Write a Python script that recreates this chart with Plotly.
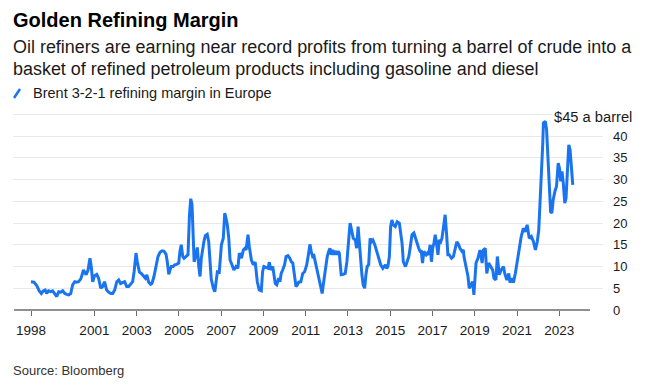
import plotly.graph_objects as go

# ---------------- data ----------------
YEARS = [
    1998.00, 1998.14, 1998.27, 1998.39, 1998.49, 1998.58, 1998.67, 1998.74, 1998.83, 1998.93,
    1999.02, 1999.13, 1999.22, 1999.31, 1999.41, 1999.50, 1999.60, 1999.69, 1999.78, 1999.88,
    1999.97, 2000.07, 2000.16, 2000.25, 2000.35, 2000.42, 2000.48, 2000.61, 2000.70, 2000.79,
    2000.85, 2000.92, 2001.01, 2001.11, 2001.20, 2001.30, 2001.39, 2001.48, 2001.58, 2001.67,
    2001.78, 2001.87, 2001.96, 2002.06, 2002.15, 2002.24, 2002.34, 2002.43, 2002.53, 2002.62,
    2002.71, 2002.81, 2002.88, 2002.97, 2003.03, 2003.13, 2003.22, 2003.32, 2003.41, 2003.48,
    2003.57, 2003.66, 2003.72, 2003.82, 2003.91, 2004.01, 2004.11, 2004.20, 2004.30, 2004.39,
    2004.45, 2004.52, 2004.58, 2004.64, 2004.73, 2004.80, 2004.89, 2004.99, 2005.05, 2005.11,
    2005.18, 2005.24, 2005.33, 2005.43, 2005.50, 2005.56, 2005.62, 2005.72, 2005.81, 2005.87,
    2005.94, 2006.00, 2006.06, 2006.12, 2006.19, 2006.25, 2006.34, 2006.41, 2006.47, 2006.53,
    2006.63, 2006.70, 2006.76, 2006.82, 2006.91, 2007.01, 2007.10, 2007.17, 2007.23, 2007.29,
    2007.36, 2007.42, 2007.51, 2007.60, 2007.70, 2007.79, 2007.86, 2007.96, 2008.05, 2008.13,
    2008.18, 2008.27, 2008.33, 2008.43, 2008.52, 2008.61, 2008.71, 2008.80, 2008.90, 2008.96,
    2009.02, 2009.13, 2009.22, 2009.28, 2009.35, 2009.44, 2009.50, 2009.56, 2009.63, 2009.72,
    2009.78, 2009.84, 2009.91, 2010.00, 2010.07, 2010.16, 2010.25, 2010.32, 2010.39, 2010.48,
    2010.54, 2010.61, 2010.67, 2010.77, 2010.86, 2010.95, 2011.05, 2011.14, 2011.20, 2011.26,
    2011.33, 2011.39, 2011.48, 2011.58, 2011.68, 2011.78, 2011.84, 2011.93, 2012.02, 2012.09,
    2012.15, 2012.21, 2012.28, 2012.34, 2012.40, 2012.47, 2012.53, 2012.59, 2012.68, 2012.78,
    2012.87, 2012.95, 2013.04, 2013.10, 2013.19, 2013.25, 2013.35, 2013.41, 2013.48, 2013.54,
    2013.60, 2013.66, 2013.72, 2013.79, 2013.85, 2013.91, 2013.98, 2014.05, 2014.11, 2014.18,
    2014.27, 2014.36, 2014.46, 2014.55, 2014.65, 2014.71, 2014.77, 2014.83, 2014.89, 2014.96,
    2015.02, 2015.08, 2015.14, 2015.24, 2015.33, 2015.43, 2015.50, 2015.56, 2015.62, 2015.72,
    2015.78, 2015.88, 2015.94, 2016.03, 2016.12, 2016.19, 2016.25, 2016.35, 2016.41, 2016.47,
    2016.53, 2016.59, 2016.70, 2016.76, 2016.82, 2016.89, 2016.95, 2017.01, 2017.07, 2017.13,
    2017.20, 2017.26, 2017.32, 2017.39, 2017.45, 2017.54, 2017.60, 2017.67, 2017.73, 2017.79,
    2017.90, 2017.99, 2018.08, 2018.15, 2018.24, 2018.30, 2018.40, 2018.46, 2018.49, 2018.59,
    2018.68, 2018.74, 2018.83, 2018.90, 2018.96, 2019.02, 2019.06, 2019.15, 2019.25, 2019.35,
    2019.41, 2019.50, 2019.57, 2019.66, 2019.76, 2019.85, 2019.91, 2020.00, 2020.07, 2020.16,
    2020.25, 2020.36, 2020.42, 2020.52, 2020.61, 2020.67, 2020.77, 2020.83, 2020.92, 2021.01,
    2021.11, 2021.20, 2021.30, 2021.39, 2021.48, 2021.58, 2021.68, 2021.78, 2021.87, 2021.96,
    2022.03, 2022.09, 2022.15, 2022.22, 2022.25, 2022.34, 2022.40, 2022.47, 2022.53, 2022.59,
    2022.65, 2022.71, 2022.81, 2022.87, 2022.95, 2023.01, 2023.07, 2023.13, 2023.19, 2023.26,
    2023.32, 2023.38, 2023.45, 2023.51, 2023.57, 2023.64,
]

MARGIN = [
    6.5, 6.4, 5.6, 4.4, 3.8, 4.4, 4.6, 3.8, 4.4, 4.2, 4.4, 3.8, 3.1, 4.2, 4.1, 4.4, 3.8, 3.6, 3.5, 3.8,
    5.8, 6.5, 6.4, 6.5, 7.1, 8.1, 9.2, 8.1, 9.2, 11.9, 10.0, 6.5, 7.9, 8.2, 7.3, 5.0, 5.4, 6.5, 4.6, 4.1,
    3.8, 3.8, 4.6, 6.5, 6.9, 6.1, 6.4, 6.5, 5.4, 5.4, 5.9, 6.5, 8.8, 13.1, 11.1, 8.7, 8.4, 7.9, 7.3, 8.1,
    6.4, 5.9, 6.1, 7.7, 10.0, 12.3, 13.3, 13.6, 13.5, 12.8, 11.1, 8.2, 9.2, 10.0, 10.0, 10.4, 10.5, 10.8, 13.5, 15.0,
    12.3, 11.9, 12.3, 12.7, 21.9, 25.6, 24.2, 11.1, 12.7, 14.4, 10.0, 7.7, 11.9, 14.2, 15.9, 17.1, 17.4, 15.7, 10.8, 7.1,
    5.0, 4.2, 6.5, 8.8, 8.7, 15.0, 16.5, 22.3, 21.1, 19.6, 16.5, 11.5, 10.4, 9.2, 10.0, 9.6, 13.1, 11.9, 13.8, 14.2,
    13.8, 17.3, 14.6, 11.5, 10.4, 11.0, 6.5, 4.6, 4.4, 8.8, 10.0, 9.8, 9.6, 11.0, 9.2, 10.0, 8.1, 6.1, 5.8, 7.3,
    6.5, 8.4, 9.2, 10.4, 12.3, 12.5, 11.9, 11.1, 10.8, 8.1, 5.4, 5.8, 6.4, 6.5, 8.4, 8.8, 10.4, 13.1, 15.1, 13.5,
    12.3, 12.5, 10.4, 8.8, 6.5, 3.8, 6.1, 9.6, 12.3, 13.5, 14.2, 12.7, 13.8, 12.7, 13.6, 12.7, 13.5, 13.1, 8.1, 8.2,
    8.4, 11.1, 16.5, 20.0, 18.0, 16.5, 16.1, 14.2, 19.2, 15.0, 12.3, 8.1, 5.8, 5.0, 8.1, 10.0, 10.4, 16.5, 15.7, 16.1,
    15.0, 13.5, 11.5, 10.4, 9.6, 10.0, 10.4, 9.6, 10.0, 12.3, 19.2, 20.7, 19.6, 19.2, 20.3, 20.0, 18.0, 15.4, 11.1, 10.0,
    10.8, 12.3, 14.2, 17.3, 17.7, 16.5, 15.4, 14.2, 13.5, 13.5, 10.8, 13.5, 12.7, 13.1, 12.7, 15.0, 11.1, 14.2, 15.4, 17.3,
    15.0, 12.7, 16.1, 15.7, 16.5, 19.2, 21.9, 17.3, 12.7, 12.7, 11.9, 12.3, 14.2, 15.7, 15.0, 14.2, 13.5, 13.8, 12.3, 10.0,
    7.7, 5.0, 6.1, 6.5, 3.5, 6.9, 10.8, 11.9, 13.8, 10.8, 13.8, 14.2, 8.4, 10.8, 10.0, 9.2, 7.3, 6.9, 12.3, 8.1,
    9.2, 10.0, 8.4, 6.9, 8.4, 6.3, 7.3, 6.3, 8.4, 11.1, 15.0, 16.9, 18.8, 18.0, 19.6, 16.5, 16.9, 15.7, 13.8, 15.7,
    18.4, 23.8, 30.7, 38.4, 43.0, 43.4, 41.5, 35.3, 27.6, 22.6, 22.3, 25.3, 27.6, 28.4, 33.8, 32.6, 29.6, 31.9, 29.2, 24.6,
    25.7, 30.7, 38.0, 36.9, 32.3, 28.8,
]

X_TICKS = [1998, 2001, 2003, 2005, 2007, 2009, 2011, 2013, 2015, 2017, 2019, 2021, 2023]
X_TICK_LABELS = [str(t) for t in X_TICKS]
Y_TICKS = [0, 5, 10, 15, 20, 25, 30, 35, 40, 45]
Y_TICK_LABELS = ["0", "5", "10", "15", "20", "25", "30", "35", "40", ""]

TITLE = "Golden Refining Margin"
SUBTITLE_1 = "Oil refiners are earning near record profits from turning a barrel of crude into a"
SUBTITLE_2 = "basket of refined petroleum products including gasoline and diesel"
SERIES_NAME = "Brent 3-2-1 refining margin in Europe"
TOP_LABEL = "$45 a barrel"
SOURCE = "Source: Bloomberg"

# ---------------- layout geometry (pixels) ----------------
W_FIG, H_FIG = 650, 385
M_L, M_R, M_T, M_B = 13, 47, 110, 75
PW = W_FIG - M_L - M_R
PH = H_FIG - M_T - M_B
BOTTOM = H_FIG - M_B

BLUE = "#1a74f0"
FONT = "Liberation Sans, Arial, sans-serif"


def px(xp):
    return (xp - M_L) / PW


def py(yp):
    return (BOTTOM - yp) / PH


fig = go.Figure()
fig.add_trace(go.Scatter(
    x=YEARS, y=MARGIN, mode="lines", name=SERIES_NAME,
    line=dict(color=BLUE, width=3), showlegend=False, hoverinfo="skip",
))

fig.update_layout(
    width=W_FIG, height=H_FIG,
    margin=dict(l=M_L, r=M_R, t=M_T, b=M_B, pad=0),
    paper_bgcolor="white", plot_bgcolor="white",
    font=dict(family=FONT, color="#111111"),
    showlegend=False,
    xaxis=dict(
        range=[1997.148, 2025.07], tickmode="array", tickvals=X_TICKS, ticktext=X_TICK_LABELS,
        showgrid=False, zeroline=False, showline=False,
        ticks="outside", ticklen=5, tickwidth=1, tickcolor="#6b6b6b",
        tickfont=dict(size=13.5, color="#1a1a1a"), ticklabelstandoff=3,
    ),
    yaxis=dict(
        range=[0, 46], side="right", tickmode="array", tickvals=Y_TICKS, ticktext=Y_TICK_LABELS,
        showgrid=True, gridcolor="#e8e8e8", gridwidth=1, zeroline=False, showline=False,
        ticks="", tickfont=dict(size=13, color="#1a1a1a"), ticklabelstandoff=9,
    ),
)

# baseline
fig.add_shape(type="line", xref="paper", yref="paper", x0=px(14), x1=px(590), y0=0, y1=0,
              line=dict(color="#6b6b6b", width=1.5), layer="above")
# legend swatch
fig.add_shape(type="line", xref="paper", yref="paper", x0=px(14), x1=px(20), y0=py(98), y1=py(89),
              line=dict(color=BLUE, width=2.5))

ann = [
    dict(text="<b>" + TITLE + "</b>", x=px(11), y=py(19.5), size=20, color="#000000", anchor="left"),
    dict(text=SUBTITLE_1, x=px(11), y=py(47), size=17.95, color="#1a1a1a", anchor="left"),
    dict(text=SUBTITLE_2, x=px(11), y=py(69), size=17.95, color="#1a1a1a", anchor="left"),
    dict(text=SERIES_NAME, x=px(31), y=py(92.5), size=14.5, color="#1a1a1a", anchor="left"),
    dict(text=SOURCE, x=px(11), y=py(370), size=13, color="#333333", anchor="left"),
]
for a in ann:
    fig.add_annotation(text=a["text"], xref="paper", yref="paper", x=a["x"], y=a["y"],
                       xanchor=a["anchor"], yanchor="middle", showarrow=False,
                       font=dict(family=FONT, size=a["size"], color=a["color"]))

fig.add_annotation(text=TOP_LABEL, xref="paper", yref="paper", x=px(633.5), y=py(116.5),
                   xanchor="right", yanchor="middle", showarrow=False, bgcolor="white",
                   font=dict(family=FONT, size=14.7, color="#1a1a1a"))

# remove the browser's default page margin so the figure sits at the window origin
fig.write_html("out.html", config={"displayModeBar": False},
               post_script="document.body.style.margin='0';")
